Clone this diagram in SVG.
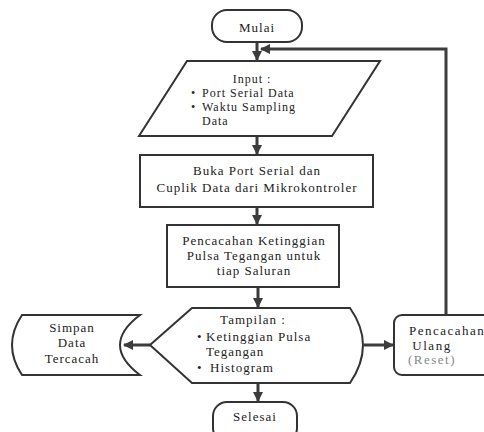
<svg xmlns="http://www.w3.org/2000/svg" width="484" height="432" viewBox="0 0 484 432">
<style>
.s{fill:#fff;stroke:#333;stroke-width:2}
.t{font-family:"Liberation Serif","Times New Roman",serif;font-size:13px;fill:#222;letter-spacing:1px}
.c{text-anchor:middle}
.i{font-size:12px}
.ln{stroke:#3c3c3c;stroke-width:3;fill:none}
</style>
<defs>
<marker id="ah" viewBox="0 0 10 10" refX="9" refY="5" markerWidth="3.4" markerHeight="3.4" orient="auto" markerUnits="strokeWidth">
<path d="M0,0 L10,5 L0,10 Z" fill="#3c3c3c"/>
</marker>
</defs>
<rect width="484" height="432" fill="#fff"/>
<g id="connectors">
<line class="ln" x1="257" y1="42" x2="257" y2="60" marker-end="url(#ah)"/>
<polyline class="ln" points="446,315 446,49 261,49" marker-end="url(#ah)"/>
<line class="ln" x1="257" y1="136" x2="257" y2="154" marker-end="url(#ah)"/>
<line class="ln" x1="257" y1="207" x2="257" y2="224" marker-end="url(#ah)"/>
<line class="ln" x1="258" y1="287" x2="258" y2="307" marker-end="url(#ah)"/>
<line class="ln" x1="150" y1="345" x2="124" y2="345" stroke-width="4" marker-end="url(#ah)"/>
<line class="ln" x1="364" y1="345" x2="393" y2="345" stroke-width="4" marker-end="url(#ah)"/>
<line class="ln" x1="258" y1="383" x2="258" y2="401" marker-end="url(#ah)"/>
</g>
<g id="mulai">
<rect class="s" x="212" y="10" width="90" height="32" rx="15"/>
<text class="t c" x="257" y="32" font-size="14">Mulai</text>
</g>
<g id="input">
<path class="s" d="M187,61 L380,61 L332,136 L139,136 Z"/>
<text class="t c i" x="252" y="83">Input :</text>
<text class="t i" x="191" y="97">•</text>
<text class="t i" x="202" y="97">Port Serial Data</text>
<text class="t i" x="191" y="111">•</text>
<text class="t i" x="202" y="111">Waktu Sampling</text>
<text class="t i" x="202" y="125">Data</text>
</g>
<g id="buka">
<rect class="s" x="140" y="155" width="233" height="52"/>
<text class="t c" x="257" y="175">Buka Port Serial dan</text>
<text class="t c" x="257" y="192">Cuplik Data dari Mikrokontroler</text>
</g>
<g id="pencacahan">
<rect class="s" x="167" y="225" width="172" height="62"/>
<text class="t c" x="254" y="245">Pencacahan Ketinggian</text>
<text class="t c" x="254" y="260">Pulsa Tegangan untuk</text>
<text class="t c" x="254" y="275">tiap Saluran</text>
</g>
<g id="tampilan">
<path class="s" d="M150,345 L192,308 L350,308 Q376,345 350,383 L192,383 Z"/>
<text class="t c" x="253" y="324">Tampilan :</text>
<text class="t" x="197" y="341">•</text>
<text class="t" x="206" y="341">Ketinggian Pulsa</text>
<text class="t" x="206" y="356">Tegangan</text>
<text class="t" x="197" y="372">•</text>
<text class="t" x="210" y="372" fill="#555">Histogram</text>
</g>
<g id="simpan">
<path class="s" d="M22,315 L140,315 Q100,345 140,375 L22,375 Q2,345 22,315 Z"/>
<text class="t c" x="72" y="332">Simpan</text>
<text class="t c" x="72" y="347">Data</text>
<text class="t c" x="72" y="363">Tercacah</text>
</g>
<g id="ulang">
<rect class="s" x="394" y="315" width="110" height="60" rx="8"/>
<text class="t" x="409" y="335" style="letter-spacing:1.5px">Pencacahan</text>
<text class="t c" x="432" y="350" style="letter-spacing:1.5px">Ulang</text>
<text class="t c" x="432" y="364" style="fill:#888;letter-spacing:1.5px">(Reset)</text>
</g>
<g id="selesai">
<rect class="s" x="213" y="402" width="84" height="40" rx="14"/>
<text class="t c" x="255" y="421">Selesai</text>
</g>
</svg>
